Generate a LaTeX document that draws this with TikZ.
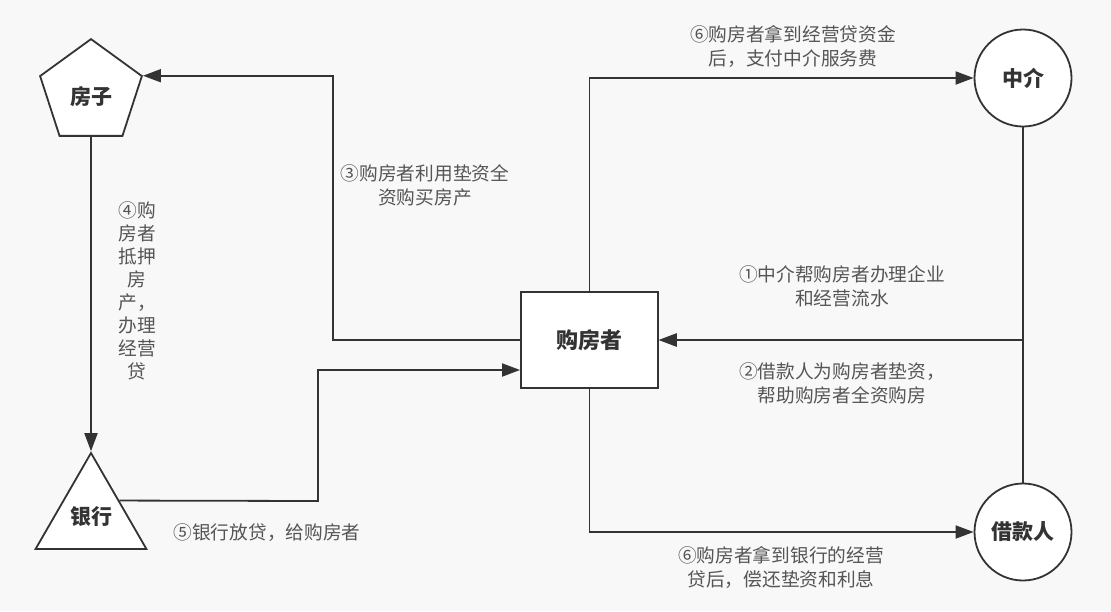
\documentclass[tikz,border=0pt]{standalone}
\usepackage{fontspec}
\setmainfont{Noto Sans CJK SC}
\usetikzlibrary{shapes.geometric,arrows.meta}
\definecolor{bg}{HTML}{F8F8F8}
\definecolor{ln}{HTML}{333333}
\definecolor{tx}{HTML}{333333}
\definecolor{lb}{HTML}{555555}
\begin{document}
\begin{tikzpicture}[x=1pt,y=-1pt,
  shapebox/.style={draw=ln,line width=1.8pt,fill=white,text=tx,font=\fontsize{21}{25}\selectfont\bfseries,inner sep=0pt},
  arr/.style={draw=ln,line width=1.8pt,-{Triangle[length=18pt,width=13pt]}},
  lab/.style={text=lb,font=\fontsize{18.7}{24}\selectfont,align=center,inner sep=0pt}]
\fill[bg] (0,0) rectangle (1111,611);
\useasboundingbox (0,0) rectangle (1111,611);

% nodes
\node[shapebox,regular polygon,regular polygon sides=5,minimum size=107pt] (house) at (91,92.6) {};
\node[text=tx,font=\fontsize{21}{25}\selectfont\bfseries,inner sep=0pt] (housetext) at (91,97) {房子};
\node[shapebox,regular polygon,regular polygon sides=3,minimum size=128pt] (bank) at (91,517) {银行};
\node[shapebox,rectangle,minimum width=137pt,minimum height=96pt,font=\fontsize{22}{26}\selectfont\bfseries] (buyer) at (589.5,340) {购房者};
\node[shapebox,circle,minimum size=97pt] (agent) at (1023,78) {中介};
\node[shapebox,circle,minimum size=97pt] (lender) at (1023,532) {借款人};

% connectors
\draw[arr] (buyer.west) -- (333,340) |- (house.corner 5);
\draw[arr] (house.south) -- (bank.corner 1);
\draw[arr] (bank.30) -- (318,501) -- (318,370) -- ([yshift=-30pt]buyer.west);
\draw[arr] (buyer.north) |- (agent.west);
\draw[arr] (agent.south) |- (buyer.east);
\draw[arr] (lender.north) |- (buyer.east);
\draw[arr] (buyer.south) |- (lender.west);

% labels
\node[lab] (l6a) at (793,46) {⑥购房者拿到经营贷资金\\后，支付中介服务费};
\node[lab] (l3) at (425,185) {③购房者利用垫资全\\资购买房产};
\node[lab] (l1) at (842,286) {①中介帮购房者办理企业\\和经营流水};
\node[lab] (l2) at (842,383) {②借款人为购房者垫资，\\帮助购房者全资购房};
\node[lab,font=\fontsize{18.7}{23}\selectfont] (l4) at (137,291) {④购\\房者\\抵押\\房\\产，\\办理\\经营\\贷};
\node[lab] (l5) at (267,533) {⑤银行放贷，给购房者};
\node[lab] (l6b) at (781,567) {⑥购房者拿到银行的经营\\贷后，偿还垫资和利息};
\end{tikzpicture}
\end{document}
